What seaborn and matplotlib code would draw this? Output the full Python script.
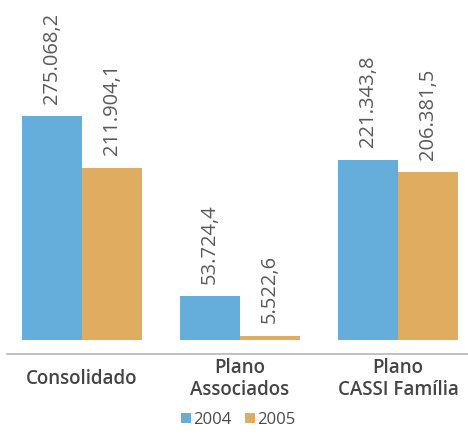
# -*- coding: utf-8 -*-

import matplotlib
matplotlib.use("Agg")
import matplotlib.pyplot as plt
import pandas as pd
import seaborn as sns

# Data (R$ mil)
categorias = ["Consolidado", "Plano\nAssociados", "Plano\nCASSI Família"]
anos = ["2004", "2005"]
valores_2004 = [275068.2, 53724.4, 221343.8]
valores_2005 = [211904.1, 5522.6, 206381.5]

cores = {"2004": "#65aedb", "2005": "#e0ac60"}

# Long table for seaborn
df = pd.DataFrame({
	"categoria": categorias * 2,
	"ano": ["2004"] * 3 + ["2005"] * 3,
	"valor": valores_2004 + valores_2005,
})

def fmt_br(v):
	s = "{:,.1f}".format(v)
	return s.replace(",", "X").replace(".", ",").replace("X", ".")

sns.set_style("white")
plt.rcParams["font.family"] = ["Open Sans", "DejaVu Sans"]

fig = plt.figure(figsize=(4.68, 4.37), dpi=100)
ax = fig.add_axes([7 / 468, 1 - 340 / 437, 1 - 7 / 468, 340 / 437])

sns.barplot(data=df, x="categoria", y="valor", hue="ano", order=categorias,
	hue_order=anos, palette=cores, width=0.76, saturation=1, linewidth=0, ax=ax)

for cont in ax.containers:
	ax.bar_label(cont, labels=[fmt_br(v) for v in cont.datavalues], rotation=90,
		padding=9, fontsize=14.5, color="#5a5a5a")

ax.set_xlim(-0.475, 2.443)
ax.set_ylim(0, 417700)
ax.set_xlabel("")
ax.set_ylabel("")
ax.set_yticks([])
sns.despine(ax=ax, left=True, offset=10)
ax.spines["bottom"].set_color("#b5b5b5")
ax.spines["bottom"].set_linewidth(1.2)
ax.tick_params(axis="x", length=0, pad=18, labelsize=13.5, colors="#454545")
for t in ax.get_xticklabels():
	t.set_fontweight("semibold")
	t.set_verticalalignment("center")
	t.set_linespacing(1.15)

# Legend below
handles, labels = ax.get_legend_handles_labels()
ax.get_legend().remove()
fig.legend(handles, labels, loc="center", bbox_to_anchor=(238 / 468, 1 - 420 / 437),
	ncol=2, frameon=False, fontsize=12, labelcolor="#4a4a4a", handlelength=0.6,
	handleheight=0.6, handletextpad=0.15, columnspacing=0.8, borderpad=0)

fig.savefig("out.png", dpi=100)
